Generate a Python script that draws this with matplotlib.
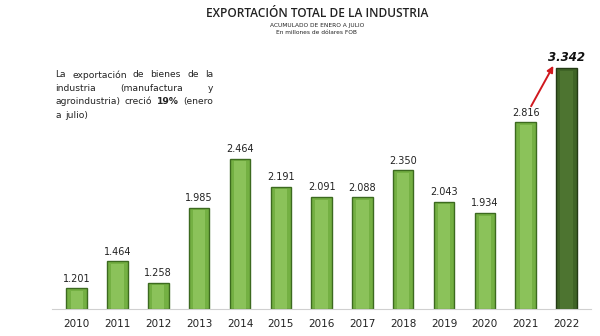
import matplotlib.pyplot as plt

# Exportación total de la industria, enero-julio (millones USD FOB)
years = ['2010', '2011', '2012', '2013', '2014', '2015', '2016',
         '2017', '2018', '2019', '2020', '2021', '2022']
values = [1201, 1464, 1258, 1985, 2464, 2191, 2091,
          2088, 2350, 2043, 1934, 2816, 3342]
labels = ['1.201', '1.464', '1.258', '1.985', '2.464', '2.191', '2.091',
          '2.088', '2.350', '2.043', '1.934', '2.816', '3.342']

fig = plt.figure(figsize=(6, 3.36), dpi=100)
ax = fig.add_axes([0.087, 0.080, 0.898, 0.765])

x = list(range(len(years)))
base = 1000
heights = [v - base for v in values]
face = ['#74b043'] * (len(years) - 1) + ['#3f6426']
edge = ['#3c6a1f'] * (len(years) - 1) + ['#233a14']
hi = ['#9fd16d'] * (len(years) - 1) + ['#5a8239']

ax.bar(x, heights, bottom=base, width=0.5, color=face, edgecolor=edge, linewidth=1.0, zorder=2)
# lighter inner face for the bevelled look
ax.bar(x, [h - 25 for h in heights], bottom=base, width=0.3, color=hi, linewidth=0, zorder=3, alpha=0.55)

for xi, v, lab in zip(x[:-1], values[:-1], labels[:-1]):
    ax.text(xi, v + 45, lab, ha='center', va='bottom', fontsize=7, color='#222222')
ax.text(x[-1], values[-1] + 45, labels[-1], ha='center', va='bottom', fontsize=8.5,
        fontweight='bold', fontstyle='italic', color='#111111')

ax.annotate('', xy=(11.71, 3390), xytext=(11.1, 2950),
            arrowprops=dict(arrowstyle='-|>', color='#d0181e', lw=1.4, mutation_scale=9))

ax.set_xlim(-0.6, 12.6)
ax.set_ylim(base, 3500)
ax.set_xticks(x)
ax.set_xticklabels(years, fontsize=7.5, color='#222222')
ax.tick_params(axis='x', length=0, pad=7)
ax.set_yticks([])
for s in ['top', 'right', 'left']:
    ax.spines[s].set_visible(False)
ax.spines['bottom'].set_color('#d0d0d0')

fig.text(0.528, 0.960, 'EXPORTACIÓN TOTAL DE LA INDUSTRIA', ha='center', va='center',
         fontsize=8.6, fontweight='semibold', color='#222222', family='Open Sans')
fig.text(0.528, 0.925, 'ACUMULADO DE ENERO A JULIO', ha='center', va='center', fontsize=4.2, color='#222222')
fig.text(0.528, 0.902, 'En millones de dólares FOB', ha='center', va='center', fontsize=4.2, color='#222222')

# paragraph, justified word by word
fs = 6.6
left, right = 0.092, 0.355
lines = [
    (['La', 'exportación', 'de', 'bienes', 'de', 'la'], True),
    (['industria', '(manufactura', 'y'], True),
    (['agroindustria)', 'creció', '19%', '(enero'], True),
    (['a', 'julio)'], False),
]
renderer = fig.canvas.get_renderer()
y = 0.777
for words, justify in lines:
    texts = []
    for w in words:
        t = fig.text(0, y, w, ha='left', va='center', fontsize=fs, color='#222222',
                     fontweight='bold' if w == '19%' else 'normal')
        texts.append(t)
    widths = [t.get_window_extent(renderer).width / fig.bbox.width for t in texts]
    if justify and len(words) > 1:
        gap = (right - left - sum(widths)) / (len(words) - 1)
    else:
        gap = 0.007
    pos = left
    for t, w in zip(texts, widths):
        t.set_x(pos)
        pos += w + gap
    y -= 0.040

fig.savefig('out.png', dpi=100)
